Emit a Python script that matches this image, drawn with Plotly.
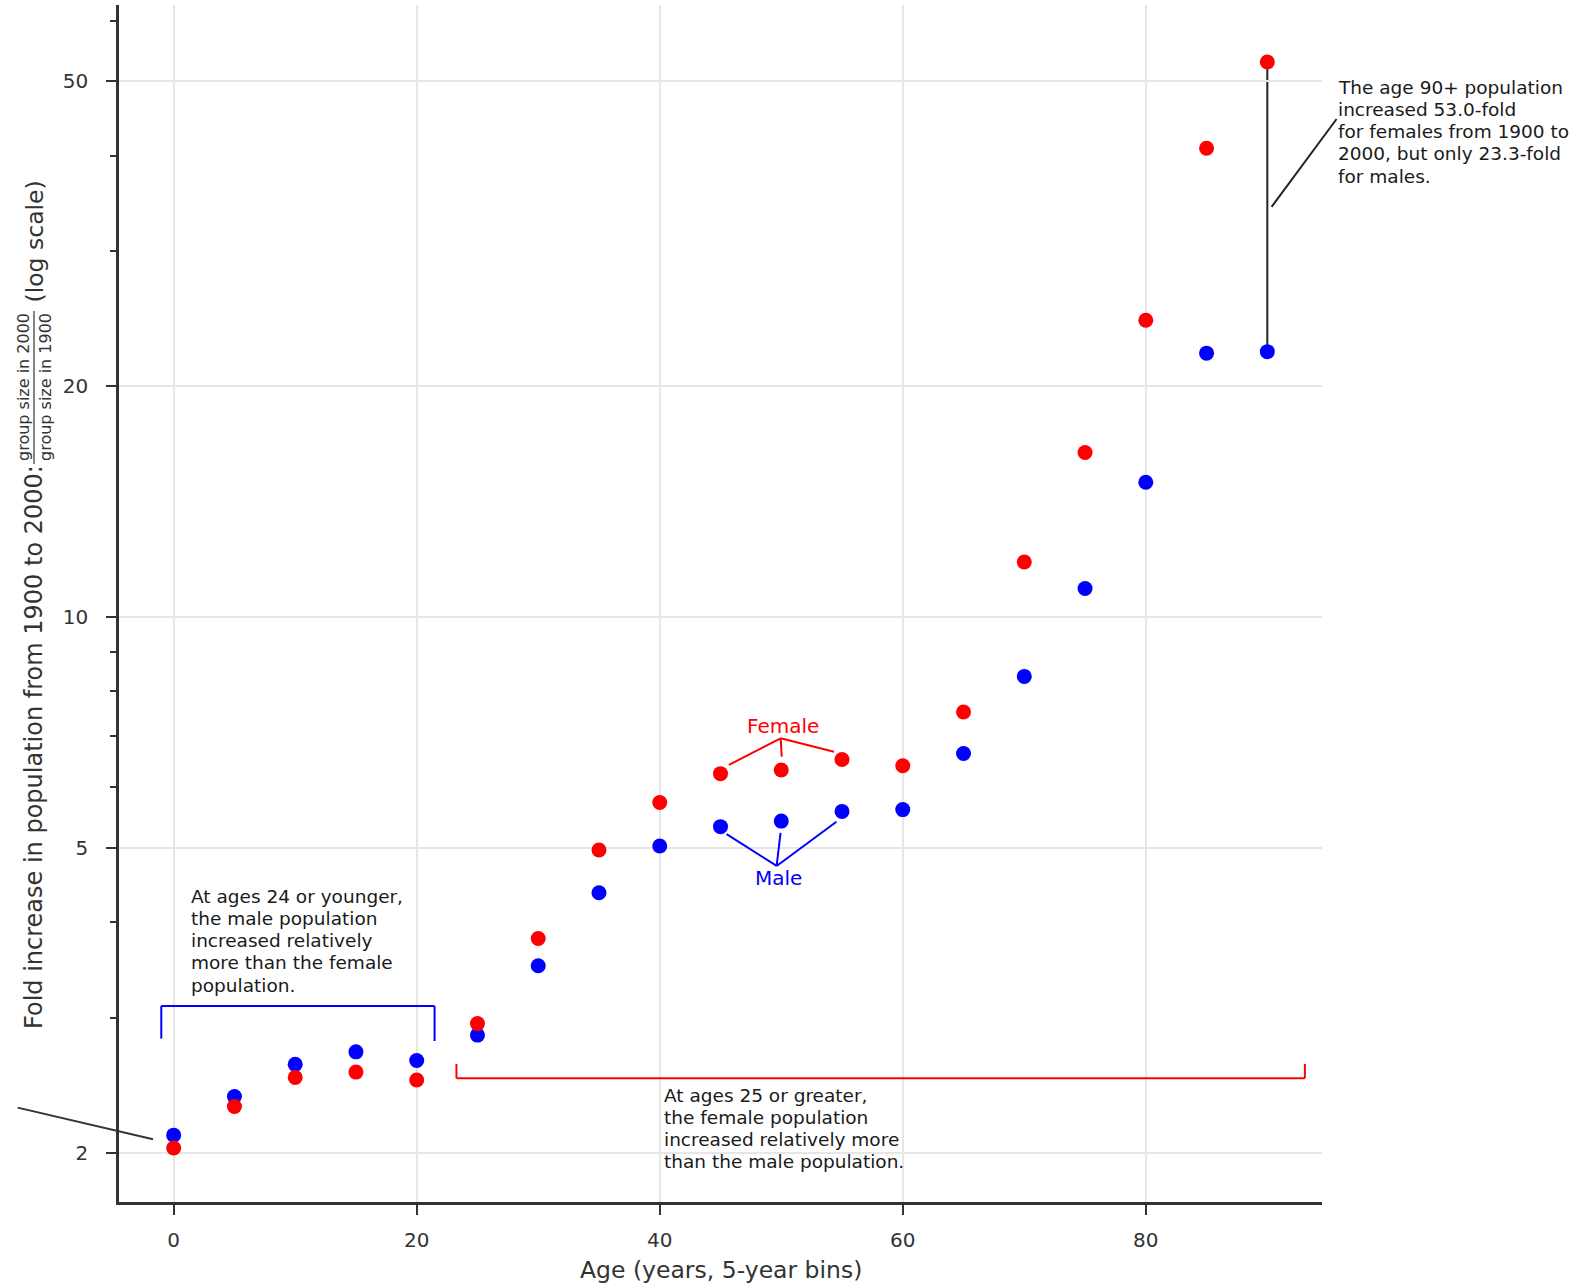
import numpy as np
import plotly.graph_objects as go

# ---------------- data ----------------
ages = [0, 5, 10, 15, 20, 25, 30, 35, 40, 45, 50, 55, 60, 65, 70, 75, 80, 85, 90]
female = [2.03, 2.30, 2.51, 2.55, 2.49, 2.95, 3.81, 4.97, 5.73, 6.25, 6.32, 6.52,
          6.40, 7.52, 11.8, 16.4, 24.4, 40.9, 53.0]
male = [2.11, 2.37, 2.61, 2.71, 2.64, 2.85, 3.51, 4.37, 5.03, 5.33, 5.42, 5.58,
        5.61, 6.64, 8.37, 10.9, 15.0, 22.1, 22.2]
x_ticks = [0, 20, 40, 60, 80]
y_ticks = [2, 5, 10, 20, 50]
y_tick_text = ["2", "5", "10", "20", "50"]
y_minor = [3, 4, 6, 7, 8, 9, 30, 40, 60]

# ---------------- geometry ----------------
W, H = 1593, 1285
ML, MR, MT, MB = 119, 271, 5, 83
PW, PH = W - ML - MR, H - MT - MB
XMIN, XMAX = -4.5, 94.5
PX_PER_DEC = 766.6
YMIN = np.log10(2) - (H - MB - 1153) / PX_PER_DEC
YMAX = YMIN + PH / PX_PER_DEC

def xp(x):
    return (x - XMIN) / (XMAX - XMIN)

def yp(v):
    return (np.log10(v) - YMIN) / (YMAX - YMIN)

def sxp(sx):  # screen px -> paper
    return (sx - ML) / PW

def syp(sy):
    return (MT + PH - sy) / PH

FONT = "DejaVu Sans"
TXT = "#1a1a1a"
AX = "#333333"
GRID = "#e6e6e6"
RED = "#ff0000"
BLUE = "#0000ff"

fig = go.Figure()
fig.add_trace(go.Scatter(x=ages, y=male, mode="markers", name="Male",
                         marker=dict(color=BLUE, size=15, line=dict(width=0))))
fig.add_trace(go.Scatter(x=ages, y=female, mode="markers", name="Female",
                         marker=dict(color=RED, size=15, line=dict(width=0))))

def seg(x0, y0, x1, y1, color, width=2, paper=False, layer="above"):
    if paper:
        fig.add_shape(type="line", xref="paper", yref="paper",
                      x0=xp(x0), y0=yp(y0), x1=xp(x1), y1=yp(y1),
                      line=dict(color=color, width=width), layer=layer)
    else:
        fig.add_shape(type="line", xref="x", yref="y", x0=x0, y0=y0, x1=x1, y1=y1,
                      line=dict(color=color, width=width), layer=layer)

def text_lines(lines, x, y, spacing, color=TXT, size=18.5, xshift=-3):
    for i, t in enumerate(lines):
        fig.add_annotation(xref="paper", yref="paper", x=xp(x), y=yp(y),
                           xshift=xshift, yshift=-i * spacing, text=t, showarrow=False,
                           xanchor="left", yanchor="middle",
                           font=dict(family=FONT, size=size, color=color))

# 90+ connector
seg(90, male[-1], 90, female[-1], "#222222", 2, layer="below")
seg(95.70, 44.65, 90.35, 34.3, "#222222", 2, paper=True)
text_lines(["The age 90+ population", "increased 53.0-fold",
            "for females from 1900 to", "2000, but only 23.3-fold", "for males."],
           96.07, 49.1, 22.2, xshift=-5)

# left cut-off pointer to age 0
seg(-12.84, 2.292, -1.70, 2.084, "#333333", 2, paper=True)

# blue bracket (ages <= 24)
seg(-1.02, 2.82, -1.02, 3.11, BLUE)
seg(-1.02, 3.11, 21.47, 3.11, BLUE)
seg(21.47, 3.11, 21.47, 2.80, BLUE)
text_lines(["At ages 24 or younger,", "the male population", "increased relatively",
            "more than the female", "population."], 1.47, 4.32, 22.1)

# red bracket (ages >= 25)
seg(23.27, 2.613, 23.27, 2.503, RED)
seg(23.27, 2.503, 93.09, 2.503, RED)
seg(93.09, 2.503, 93.09, 2.613, RED)
text_lines(["At ages 25 or greater,", "the female population",
            "increased relatively more", "than the male population."],
           40.4, 2.374, 22.0)

# Female / Male labels
for ex, ey in [(45.69, 6.416), (50.04, 6.577), (54.34, 6.675)]:
    seg(49.95, 6.95, ex, ey, RED)
for ex, ey in [(45.5, 5.213), (49.94, 5.233), (54.54, 5.41)]:
    seg(49.62, 4.737, ex, ey, BLUE)
fig.add_annotation(xref="paper", yref="paper", x=xp(50.17), y=yp(7.21), text="Female",
                   showarrow=False, xanchor="center", yanchor="middle",
                   font=dict(family=FONT, size=20, color=RED))
fig.add_annotation(xref="paper", yref="paper", x=xp(49.81), y=yp(4.565), text="Male",
                   showarrow=False, xanchor="center", yanchor="middle",
                   font=dict(family=FONT, size=20, color=BLUE))

# y-axis label built from pieces (main text, fraction, suffix)
fig.add_annotation(xref="paper", yref="paper", x=sxp(34), y=syp(747),
                   text="Fold increase in population from 1900 to 2000:", textangle=-90,
                   showarrow=False, xanchor="center", yanchor="middle",
                   font=dict(family=FONT, size=24, color=AX))
fig.add_annotation(xref="paper", yref="paper", x=sxp(23.5), y=syp(387.5),
                   text="group size in 2000", textangle=-90,
                   showarrow=False, xanchor="center", yanchor="middle",
                   font=dict(family=FONT, size=16, color=AX))
fig.add_annotation(xref="paper", yref="paper", x=sxp(45.5), y=syp(387.5),
                   text="group size in 1900", textangle=-90,
                   showarrow=False, xanchor="center", yanchor="middle",
                   font=dict(family=FONT, size=16, color=AX))
fig.add_shape(type="line", xref="paper", yref="paper", x0=sxp(34), x1=sxp(34),
              y0=syp(311), y1=syp(464), line=dict(color=AX, width=1.2))
fig.add_annotation(xref="paper", yref="paper", x=sxp(34), y=syp(241.5),
                   text="(log scale)", textangle=-90,
                   showarrow=False, xanchor="center", yanchor="middle",
                   font=dict(family=FONT, size=23.5, color=AX))

# x-axis title
fig.add_annotation(xref="paper", yref="paper", x=0.5, y=syp(1270),
                   text="Age (years, 5-year bins)", showarrow=False,
                   xanchor="center", yanchor="middle",
                   font=dict(family=FONT, size=23.5, color=AX))

fig.update_layout(
    width=W, height=H,
    margin=dict(l=ML, r=MR, t=MT, b=MB, pad=0),
    paper_bgcolor="white", plot_bgcolor="white",
    showlegend=False,
    font=dict(family=FONT, color=AX),
    xaxis=dict(range=[XMIN, XMAX], tickmode="array", tickvals=x_ticks,
               showgrid=True, gridcolor=GRID, gridwidth=1.5, zeroline=False,
               showline=True, linecolor=AX, linewidth=2.5, mirror=False,
               ticks="outside", ticklen=10, tickwidth=2, tickcolor=AX,
               ticklabelstandoff=8,
               tickfont=dict(family=FONT, size=20, color=AX)),
    yaxis=dict(type="log", range=[YMIN, YMAX], tickmode="array", tickvals=y_ticks,
               ticktext=y_tick_text,
               showgrid=True, gridcolor=GRID, gridwidth=1.5, zeroline=False,
               showline=True, linecolor=AX, linewidth=2.5, mirror=False,
               ticks="outside", ticklen=10, tickwidth=2, tickcolor=AX,
               ticklabelstandoff=14,
               tickfont=dict(family=FONT, size=20, color=AX),
               minor=dict(tickmode="array", tickvals=y_minor, ticks="outside",
                          ticklen=6, tickwidth=1.5, tickcolor=AX, showgrid=False)),
)

fig.write_html("out.html",
               config={"displayModeBar": False},
               post_script="document.body.style.margin='0';"
                           "document.body.style.overflow='hidden';")
